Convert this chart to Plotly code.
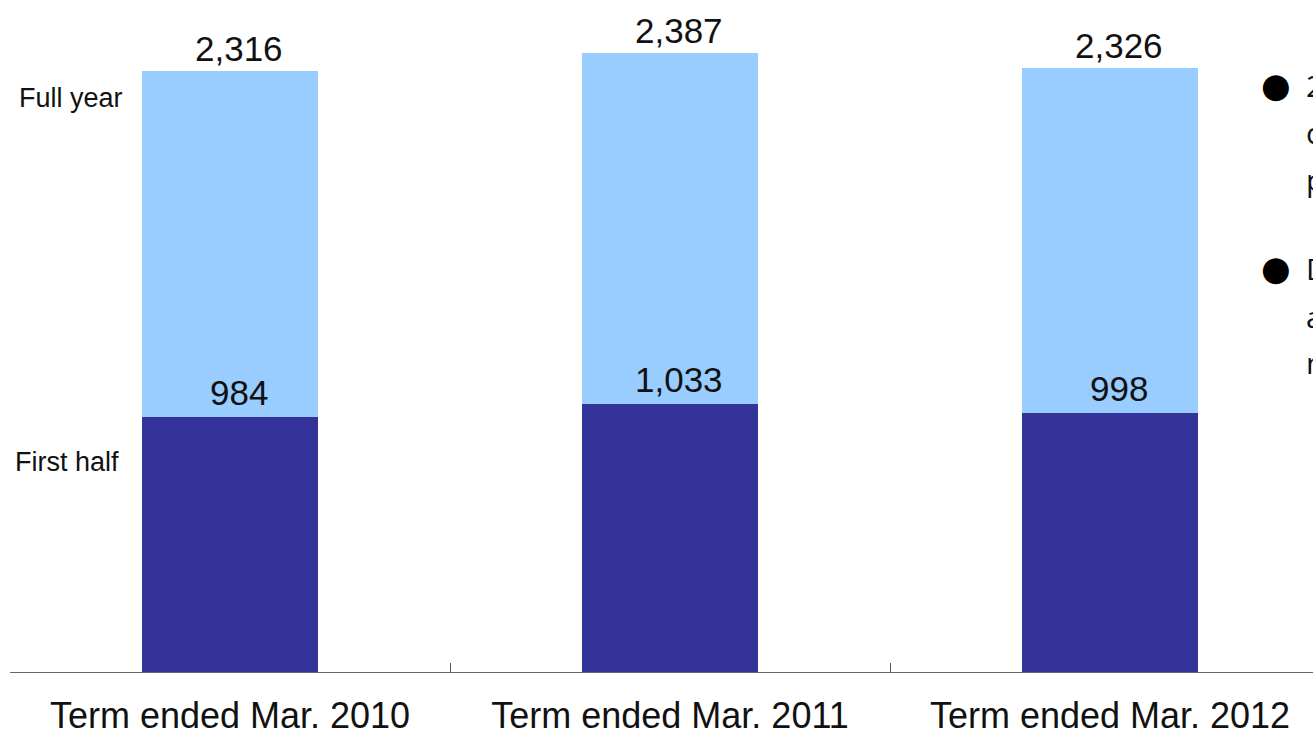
import plotly.graph_objects as go

# Sales by term: first half and full-year totals
terms = ["Term ended Mar. 2010", "Term ended Mar. 2011", "Term ended Mar. 2012"]
first_half = [984, 1033, 998]
full_year = [2316, 2387, 2326]
second_half = [f - h for f, h in zip(full_year, first_half)]

notes = [
    "2nd half sales rose well above the first half,",
    "consistent with the seasonal trend of",
    "previous terms.",
    "Demand for replacement parts remained",
    "at a steady level and is expected to hold",
    "next term.",
]

DARK = "#333399"
LIGHT = "#99CCFF"
NUM_FONT = dict(family="Liberation Sans, Arial, sans-serif", size=35, color="#111111")

fig = go.Figure()
fig.add_bar(x=terms, y=first_half, name="First half", marker_color=DARK,
            marker_line_width=0, width=0.4)
fig.add_bar(x=terms, y=second_half, name="Second half", marker_color=LIGHT,
            marker_line_width=0, width=0.4)

annotations = []
for t, h, f in zip(terms, first_half, full_year):
    annotations.append(dict(x=t, y=f, text=f"{f:,}", showarrow=False, xref="x", yref="y",
                            yanchor="bottom", xshift=9, yshift=1, font=NUM_FONT))
    annotations.append(dict(x=t, y=h, text=f"{h:,}", showarrow=False, xref="x", yref="y",
                            yanchor="bottom", xshift=9, yshift=3, font=NUM_FONT))

side_font = dict(family="Liberation Sans, Arial, sans-serif", size=27, color="#111111")
annotations.append(dict(x=17, y=98, xref="paper", yref="paper", text="Full year",
                        showarrow=False, xanchor="left", yanchor="middle", font=side_font))
annotations.append(dict(x=13, y=462, xref="paper", yref="paper", text="First half",
                        showarrow=False, xanchor="left", yanchor="middle", font=side_font))

W, H = 1313, 734
ML, MR, MT, MB = 10, 0, 0, 62
pw, ph = W - ML - MR, H - MT - MB


def px_to_paper(px, py):
    return (px - ML) / pw, 1 - (py - MT) / ph


# convert pixel-placed side labels to paper coordinates
for a in annotations:
    if a["xref"] == "paper":
        a["x"], a["y"] = px_to_paper(a["x"], a["y"])

# bulleted commentary on the right
note_font = dict(family="Open Sans, Noto Sans, sans-serif", size=30, color="#111111")
bullet_font = dict(family="DejaVu Sans, sans-serif", size=34, color="#000000")
line_y = [85, 133, 180, 268, 316, 362]
for i, (txt, yy) in enumerate(zip(notes, line_y)):
    xp, yp = px_to_paper(1304, yy)
    annotations.append(dict(x=xp, y=yp, xref="paper", yref="paper", text=txt,
                            showarrow=False, xanchor="left", yanchor="middle", font=note_font))
    if i in (0, 3):
        bx, by = px_to_paper(1259, yy)
        annotations.append(dict(x=bx, y=by, xref="paper", yref="paper", text="●",
                                showarrow=False, xanchor="left", yanchor="middle",
                                font=bullet_font))

fig.update_layout(
    width=W, height=H,
    margin=dict(l=ML, r=MR, t=MT, b=MB, autoexpand=False),
    barmode="stack",
    showlegend=False,
    plot_bgcolor="white",
    paper_bgcolor="white",
    annotations=annotations,
    xaxis=dict(
        type="category",
        range=[-0.5, -0.5 + pw / 440],
        automargin=False,
        tickson="boundaries",
        ticks="inside",
        ticklen=9,
        tickcolor="#555555",
        showline=True,
        linecolor="#666666",
        linewidth=1,
        showgrid=False,
        ticklabelstandoff=12,
        tickfont=dict(family="Liberation Sans, Arial, sans-serif", size=36, color="#111111"),
    ),
    yaxis=dict(
        range=[0, 672 / 0.2595],
        visible=False,
        showgrid=False,
        zeroline=False,
    ),
)

fig.write_html("out.html")
